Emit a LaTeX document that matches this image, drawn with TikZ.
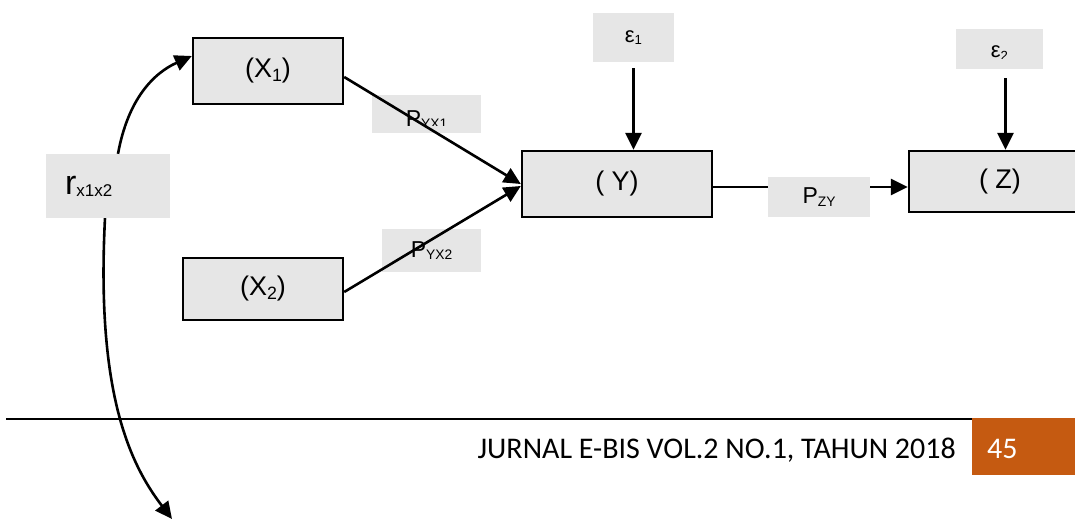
\documentclass[tikz,border=0pt]{standalone}
\usepackage{fontspec}
\setmainfont{Liberation Sans}
\newfontfamily\rodape{Carlito}
\usepackage{graphicx}
\usepackage{tikz}
\usetikzlibrary{arrows.meta, positioning}
\usepackage{xcolor}
\definecolor{cinza}{RGB}{230,230,230}
\definecolor{laranja}{RGB}{197,90,17}
\newcommand{\sub}[2][0.62]{\raisebox{-0.12em}{\scalebox{#1}{#2}}}

\begin{document}
\begin{tikzpicture}[x=1pt, y=-1pt,
    caixa/.style={draw, line width=2.4pt, fill=cinza, inner sep=0pt, font=\fontsize{27}{30}\selectfont},
    rotulo/.style={fill=cinza, inner sep=0pt},
    seta/.style={line width=2.6pt, -{Triangle[length=17pt, width=16pt]}},
    linha/.style={line width=2.6pt}]
    \useasboundingbox (0,0) rectangle (1075,519);
    % Variáveis
    \node[caixa, minimum width=150pt, minimum height=66pt] (vx1) at (268,71) {(X\sub[0.66]{1})};
    \node[caixa, minimum width=160pt, minimum height=62pt] (vx2) at (263,289) {(X\sub[0.66]{2})};
    \node[caixa, minimum width=190pt, minimum height=66pt] (vy) at (617,184) {( Y)};
    \node[caixa, minimum width=182pt, minimum height=61pt] (vz) at (1000,181.5) {( Z)};
    % Rótulos
    \node[rotulo, minimum height=64pt, text width=86pt, inner xsep=19pt, align=left] (r) at (108,186)
        {{\fontsize{34}{34}\selectfont r}{\fontsize{17}{17}\selectfont\raisebox{-2pt}{x1x2}}};
    \node[rotulo, minimum width=81pt, minimum height=49pt, font=\fontsize{22}{22}\selectfont] (e1) at (633.5,37.5) {ε\sub[0.6]{1}};
    \node[rotulo, minimum width=87pt, minimum height=40pt] (e2) at (999.5,49) {};
    \begin{scope}
        \clip (e2.north west) rectangle ([yshift=11pt]e2.south east);
        \node[anchor=base, inner sep=0pt, font=\fontsize{22}{22}\selectfont] (te2) at (999.5,57.5) {ε\sub[0.6]{2}};
    \end{scope}
    \node[rotulo, minimum width=109pt, minimum height=38pt] (pyx1) at (426.5,114) {};
    \begin{scope}
        \clip (pyx1.north west) rectangle ([yshift=8pt]pyx1.south east);
        \node[anchor=base, inner sep=0pt, font=\fontsize{23}{23}\selectfont] (tpyx1) at (426.5,126) {P\sub[0.6]{YX1}};
    \end{scope}
    \node[rotulo, minimum width=99pt, minimum height=43pt, font=\fontsize{23}{23}\selectfont] (pyx2) at (431.5,250.5) {P\sub[0.6]{YX2}};
    \node[rotulo, minimum width=102pt, minimum height=40pt, font=\fontsize{23}{23}\selectfont] (pzy) at (819,197) {P\sub[0.6]{ZY}};
    % Setas
    \draw[seta] ([yshift=-6pt]vx1.east) -- (vy.west);
    \draw[seta] ([yshift=-3pt]vx2.east) -- ([yshift=-2pt]vy.west);
    \draw[seta, shorten <=6pt] (e1.south) -- (e1.south |- vy.north);
    \coordinate (b2) at ([xshift=6pt]e2.south);
    \draw[seta, shorten <=9pt] (b2) -- (b2 |- vz.north);
    \coordinate (saida) at ([yshift=-3pt]vy.east);
    \draw[linha] (saida) -- (saida -| pzy.west);
    \draw[seta] (saida -| pzy.east) -- (saida -| vz.west);
    % Correlação
    \coordinate (fim) at (172,519);
    \draw[seta] ([xshift=10pt]r.north) .. controls +(10,-55) and +(-38,17) .. ([yshift=15pt]vx1.west);
    \draw[seta] ([xshift=-3pt]r.south) .. controls +(-9,175) and +(-42,-55) .. (fim);
    % Rodapé
    \draw[line width=2.6pt] (6,419) -- (972,419);
    \fill[laranja] (972,418) rectangle (1075,475);
    \node[anchor=base east, inner sep=0pt, font=\rodape\fontsize{30}{30}\selectfont] (jurnal) at (956,458) {JURNAL E-BIS VOL.2 NO.1, TAHUN 2018};
    \node[anchor=base west, inner sep=0pt, text=white, font=\rodape\fontsize{30}{30}\selectfont] (pagina) at (987,458) {45};
\end{tikzpicture}
\end{document}
